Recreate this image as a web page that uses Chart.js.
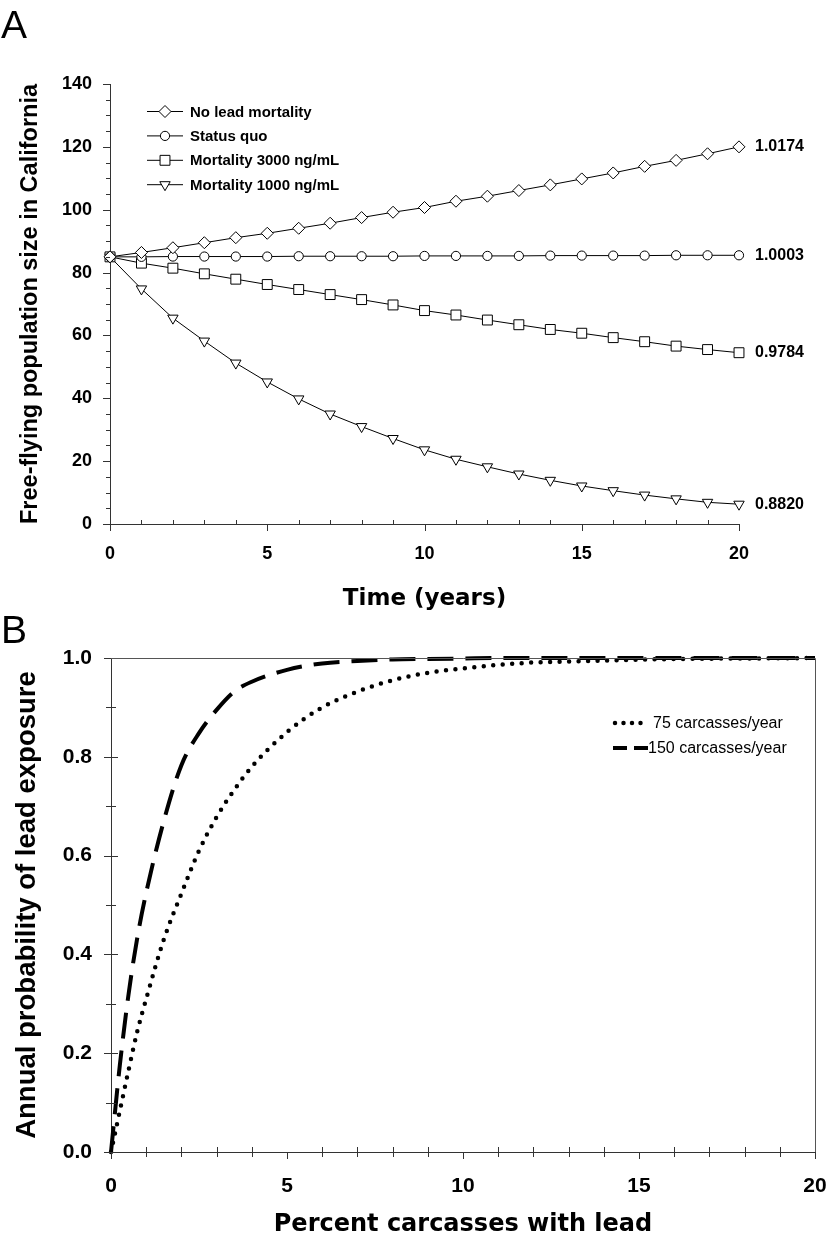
<!DOCTYPE html>
<html>
<head>
<meta charset="utf-8">
<script src="https://cdn.jsdelivr.net/npm/chart.js@4.4.0/dist/chart.umd.min.js"></script>
<style>
  body { margin: 0; background: #fff; }
  #wrap { position: relative; width: 829px; height: 1245px; }
  canvas { position: absolute; left: 0; }
  #topChart { top: 0; }
  #bottomChart { top: 600px; }
</style>
</head>
<body>
<div id="wrap">
  <canvas id="topChart" width="829" height="620"></canvas>
  <canvas id="bottomChart" width="829" height="645"></canvas>
</div>
<script>
// ---- panel A data ----
const years = [0, 1, 2, 3, 4, 5, 6, 7, 8, 9, 10, 11, 12, 13, 14, 15, 16, 17, 18, 19, 20];
const noLeadMortality = [85, 86.4, 87.9, 89.5, 91.1, 92.5, 94.1, 95.7, 97.5, 99.2, 100.7, 102.7, 104.3, 106.1, 107.9, 109.8, 111.7, 113.8, 115.7, 117.8, 120.0];
const statusQuo = [85, 85.0, 85.1, 85.1, 85.1, 85.1, 85.2, 85.2, 85.2, 85.2, 85.3, 85.3, 85.3, 85.3, 85.4, 85.4, 85.4, 85.4, 85.5, 85.5, 85.5];
const mortality3000 = [85, 83.0, 81.4, 79.6, 77.9, 76.2, 74.6, 73.0, 71.4, 69.7, 67.9, 66.5, 64.9, 63.4, 61.9, 60.7, 59.3, 58.0, 56.6, 55.5, 54.5];
const mortality1000 = [85, 74.8, 65.5, 58.2, 51.2, 45.2, 39.8, 35.0, 31.0, 27.2, 23.6, 20.6, 18.2, 15.9, 13.9, 12.1, 10.6, 9.2, 8.0, 6.9, 6.3];
const seriesNames = ['No lead mortality', 'Status quo', 'Mortality 3000 ng/mL', 'Mortality 1000 ng/mL'];
const growthRates = ['1.0174', '1.0003', '0.9784', '0.8820'];

// ---- panel B data ----
const pctLead = [0, 0.25, 0.5, 0.75, 1, 1.5, 2, 2.5, 3, 3.5, 4, 5, 6, 7, 8, 9, 10, 11, 12, 13, 14, 16, 18, 20];
const prob75 = [0, 0.083, 0.166, 0.245, 0.31, 0.43, 0.523, 0.61, 0.678, 0.733, 0.78, 0.85, 0.90, 0.932, 0.955, 0.970, 0.979, 0.986, 0.991, 0.993, 0.995, 0.998, 0.999, 1.0];
const prob150 = [0, 0.175, 0.32, 0.435, 0.525, 0.67, 0.783, 0.848, 0.895, 0.932, 0.952, 0.976, 0.989, 0.994, 0.997, 0.998, 0.999, 1.0, 1.0, 1.0, 1.0, 1.0, 1.0, 1.0];
const bLabels = ['75 carcasses/year', '150 carcasses/year'];

const SANS = "'Liberation Sans', Arial, sans-serif";
const WIDE = "'DejaVu Sans', sans-serif";
const AXIS = '#333';

// draws major / minor tick marks (chart.js has no minor ticks)
const tickMarks = {
  id: 'tickMarks',
  afterDraw(chart, args, opts) {
    const ctx = chart.ctx;
    ctx.save();
    ctx.strokeStyle = AXIS;
    ctx.lineWidth = 1;
    ['x', 'y'].forEach(id => {
      const s = chart.scales[id];
      const o = opts[id];
      const n = Math.round((s.max - s.min) / o.minor);
      const every = Math.round(o.major / o.minor);
      for (let k = 0; k <= n; k++) {
        const v = s.min + k * o.minor;
        const major = k % every === 0;
        const out = major ? o.majorOut : o.minorOut;
        const inn = major ? o.majorIn : o.minorIn;
        const p = Math.round(s.getPixelForValue(v)) + 0.5;
        ctx.beginPath();
        if (id === 'x') {
          ctx.moveTo(p, s.top - inn);
          ctx.lineTo(p, s.top + out);
        } else {
          ctx.moveTo(s.right - out, p);
          ctx.lineTo(s.right + inn, p);
        }
        ctx.stroke();
      }
    });
    ctx.restore();
  }
};

const panelLetter = {
  id: 'panelLetter',
  afterDraw(chart, args, opts) {
    const ctx = chart.ctx;
    ctx.save();
    ctx.fillStyle = '#000';
    ctx.font = '39px ' + SANS;
    ctx.textBaseline = 'alphabetic';
    ctx.fillText(opts.text, opts.x, opts.y);
    ctx.restore();
  }
};

// legend of panel A: line + marker + text
const topLegend = {
  id: 'topLegend',
  afterDraw(chart) {
    const ctx = chart.ctx;
    ctx.save();
    chart.data.datasets.forEach((ds, i) => {
      const y = 111.5 + i * 24.4;
      ctx.strokeStyle = '#000';
      ctx.lineWidth = 1;
      ctx.beginPath();
      ctx.moveTo(147, y);
      ctx.lineTo(183, y);
      ctx.stroke();
      ctx.fillStyle = '#fff';
      Chart.helpers.drawPoint(ctx, {
        pointStyle: ds.pointStyle, radius: ds.pointRadius,
        rotation: ds.pointRotation || 0, borderWidth: 1
      }, 165, y);
      ctx.fillStyle = '#000';
      ctx.font = 'bold 15px ' + SANS;
      ctx.textBaseline = 'middle';
      ctx.fillText(ds.label, 190, y + 1);
    });
    ctx.restore();
  }
};

// growth rate printed after the last point of every series
const endLabels = {
  id: 'endLabels',
  afterDatasetsDraw(chart) {
    const ctx = chart.ctx;
    ctx.save();
    ctx.fillStyle = '#000';
    ctx.font = 'bold 16px ' + SANS;
    ctx.textBaseline = 'middle';
    chart.data.datasets.forEach((ds, i) => {
      const meta = chart.getDatasetMeta(i);
      const pt = meta.data[meta.data.length - 1];
      ctx.fillText(growthRates[i], pt.x + 16, pt.y);
    });
    ctx.restore();
  }
};

const boxFrame = {
  id: 'boxFrame',
  afterDraw(chart) {
    const {ctx, chartArea: a} = chart;
    ctx.save();
    ctx.strokeStyle = '#555';
    ctx.lineWidth = 1;
    ctx.beginPath();
    ctx.moveTo(a.left, a.top + 0.5);
    ctx.lineTo(a.right + 0.5, a.top + 0.5);
    ctx.lineTo(a.right + 0.5, a.bottom);
    ctx.stroke();
    ctx.restore();
  }
};

const bottomLegend = {
  id: 'bottomLegend',
  afterDraw(chart) {
    const ctx = chart.ctx;
    ctx.save();
    chart.data.datasets.forEach((ds, i) => {
      const y = 123 + i * 25;
      ctx.strokeStyle = '#000';
      ctx.lineWidth = ds.borderWidth;
      ctx.lineCap = ds.borderCapStyle;
      ctx.setLineDash(i === 0 ? [0, 8.5] : [14, 7]);
      ctx.beginPath();
      ctx.moveTo(i === 0 ? 615 : 613, y);
      ctx.lineTo(648, y);
      ctx.stroke();
      ctx.setLineDash([]);
      ctx.fillStyle = '#000';
      ctx.font = '16px ' + SANS;
      ctx.textBaseline = 'middle';
      ctx.fillText(ds.label, i === 0 ? 653 : 648, y + 1);
    });
    ctx.restore();
  }
};

function axisBase(extra) {
  return Object.assign({
    type: 'linear',
    grid: { drawOnChartArea: false, drawTicks: false },
    border: { color: AXIS, width: 1 }
  }, extra);
}

// fixed axis box sizes; drop the label overhang padding chart.js adds
function fixX(h) {
  return s => { s.height = h; s.paddingLeft = 0; s.paddingRight = 0; };
}
function fixY(w) {
  return s => { s.width = w; s.paddingTop = 0; s.paddingBottom = 0; };
}

// ---- panel A ----
new Chart(document.getElementById('topChart'), {
  type: 'line',
  data: {
    labels: years,
    datasets: [
      { label: seriesNames[0], data: noLeadMortality, pointStyle: 'rectRot', pointRadius: 6 },
      { label: seriesNames[1], data: statusQuo, pointStyle: 'circle', pointRadius: 4.6 },
      { label: seriesNames[2], data: mortality3000, pointStyle: 'rect', pointRadius: 7 },
      { label: seriesNames[3], data: mortality1000, pointStyle: 'triangle', pointRadius: 6, pointRotation: 180 }
    ].map(d => Object.assign({
      borderColor: '#000', borderWidth: 1, tension: 0, clip: false,
      pointBackgroundColor: '#fff', pointBorderColor: '#000', pointBorderWidth: 1
    }, d))
  },
  options: {
    responsive: false,
    animation: false,
    events: [],
    layout: { padding: { top: 84, right: 90, left: 0, bottom: 0 } },
    plugins: {
      legend: { display: false },
      tooltip: { enabled: false },
      tickMarks: {
        x: { major: 5, minor: 1, majorOut: 7, majorIn: 0, minorOut: 0, minorIn: 4 },
        y: { major: 20, minor: 5, majorOut: 7, majorIn: 0, minorOut: 4, minorIn: 0 }
      },
      panelLetter: { text: 'A', x: 1, y: 38 }
    },
    scales: {
      x: axisBase({
        min: 0, max: 20,
        afterFit: fixX(96),
        ticks: { stepSize: 5, padding: 19, color: '#000', font: { family: SANS, size: 18, weight: 'bold' } },
        title: { display: true, text: 'Time (years)', color: '#000',
                 font: { family: WIDE, size: 23, weight: 'bold' }, padding: { top: 0, bottom: 7 } }
      }),
      y: axisBase({
        min: 0, max: 140,
        afterFit: fixY(110),
        ticks: { stepSize: 20, padding: 18, color: '#000', font: { family: SANS, size: 18, weight: 'bold' } },
        title: { display: true, text: 'Free-flying population size in California', color: '#000',
                 font: { family: SANS, size: 23.5, weight: 'bold' }, padding: { top: 16, bottom: 0 } }
      })
    }
  },
  plugins: [tickMarks, panelLetter, topLegend, endLabels]
});

// ---- panel B ----
new Chart(document.getElementById('bottomChart'), {
  type: 'line',
  data: {
    datasets: [
      { label: bLabels[0], data: pctLead.map((x, i) => ({ x: x, y: prob75[i] })),
        borderWidth: 4.5, borderDash: [0, 9.5], borderCapStyle: 'round' },
      { label: bLabels[1], data: pctLead.map((x, i) => ({ x: x, y: prob150[i] })),
        borderWidth: 4, borderDash: [26, 12], borderCapStyle: 'butt' }
    ].map(d => Object.assign({
      borderColor: '#000', pointRadius: 0, cubicInterpolationMode: 'monotone', clip: false
    }, d))
  },
  options: {
    responsive: false,
    animation: false,
    events: [],
    layout: { padding: { top: 58, right: 14, left: 0, bottom: 0 } },
    plugins: {
      legend: { display: false },
      tooltip: { enabled: false },
      tickMarks: {
        x: { major: 5, minor: 1, majorOut: 7, majorIn: 0, minorOut: 5, minorIn: 5 },
        y: { major: 0.2, minor: 0.1, majorOut: 7, majorIn: 7, minorOut: 5, minorIn: 5 }
      },
      panelLetter: { text: 'B', x: 1, y: 43 }
    },
    scales: {
      x: axisBase({
        min: 0, max: 20,
        afterFit: fixX(93),
        ticks: { stepSize: 5, padding: 22, color: '#000', font: { family: SANS, size: 21, weight: 'bold' } },
        title: { display: true, text: 'Percent carcasses with lead', color: '#000',
                 font: { family: WIDE, size: 24, weight: 'bold' }, padding: { top: 0, bottom: 6 } }
      }),
      y: axisBase({
        min: 0, max: 1,
        afterFit: fixY(111),
        ticks: { stepSize: 0.2, padding: 19, color: '#000', font: { family: SANS, size: 21, weight: 'bold' },
                 callback: v => v.toFixed(1) },
        title: { display: true, text: 'Annual probability of lead exposure', color: '#000',
                 font: { family: SANS, size: 27.5, weight: 'bold' }, padding: { top: 11, bottom: 0 } }
      })
    }
  },
  plugins: [tickMarks, panelLetter, boxFrame, bottomLegend]
});
</script>
</body>
</html>
